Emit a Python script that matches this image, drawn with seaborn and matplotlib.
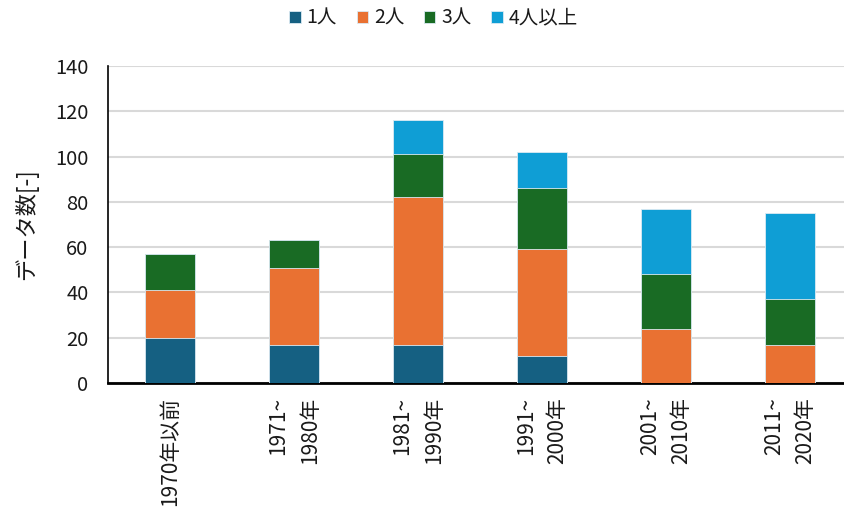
import pandas as pd
import numpy as np
import matplotlib
matplotlib.use('Agg')
import matplotlib.pyplot as plt
import seaborn as sns

# データ
categories = ['1970年以前', '1971~\n1980年', '1981~\n1990年', '1991~\n2000年', '2001~\n2010年', '2011~\n2020年']
series = ['1人', '2人', '3人', '4人以上']
one = [20, 17, 17, 12, 0, 0]
two = [21, 34, 65, 47, 24, 17]
three = [16, 12, 19, 27, 24, 20]
four = [0, 0, 15, 16, 29, 38]
colors = ['#156082', '#E97132', '#196B24', '#0F9ED5']

df = pd.DataFrame({'cat': categories, '1人': one, '2人': two, '3人': three, '4人以上': four})

# 積み上げ用の累積値
cum = df[series].cumsum(axis=1)

# スタイル
sns.set_style('white')
plt.rcParams['font.family'] = ['Noto Sans CJK JP', 'DejaVu Sans']

fig = plt.figure(figsize=(8.45, 5.07), dpi=100)
ax = fig.add_axes([108 / 845, (507 - 383) / 507, 744 / 845, 317 / 507])

# 上の層から順に重ねて描く
for s, c in reversed(list(zip(series, colors))):
    sns.barplot(x=df['cat'], y=cum[s], order=categories, color=c, width=0.4,
                saturation=1, label=s, edgecolor='#dbeaf3', linewidth=0.6,
                ax=ax, zorder=3)

ax.set_ylim(0, 140)
ax.set_yticks(range(0, 141, 20))
ax.set_xlim(-0.5, 5.5)
ax.yaxis.grid(True, color='#d9d9d9', linewidth=1.5, zorder=0)
ax.set_axisbelow(True)

for sp in ['top', 'right']:
    ax.spines[sp].set_visible(False)
ax.spines['left'].set_color('black')
ax.spines['left'].set_linewidth(1.2)
ax.spines['bottom'].set_color('black')
ax.spines['bottom'].set_linewidth(2)

ax.tick_params(axis='y', length=0, pad=14, labelsize=14.5, labelcolor='#1a1a1a')
ax.tick_params(axis='x', length=0, pad=10, labelsize=15, labelcolor='#1a1a1a')
plt.setp(ax.get_xticklabels(), rotation=90, va='top', ha='center',
         linespacing=1.55, multialignment='right')

ax.set_xlabel('')
ax.set_ylabel('データ数[-]', fontsize=16, color='#1a1a1a', labelpad=12)

# 凡例
h, l = ax.get_legend_handles_labels()
order = [l.index(s) for s in series]
ax.legend([h[i] for i in order], [l[i] for i in order], loc='center',
          bbox_to_anchor=(0.513, 0.964), bbox_transform=fig.transFigure,
          ncol=4, frameon=False, fontsize=14, handlelength=0.6, handleheight=0.6,
          handletextpad=0.3, columnspacing=1.0, labelcolor='#1a1a1a')

fig.savefig('out.png', dpi=100)
